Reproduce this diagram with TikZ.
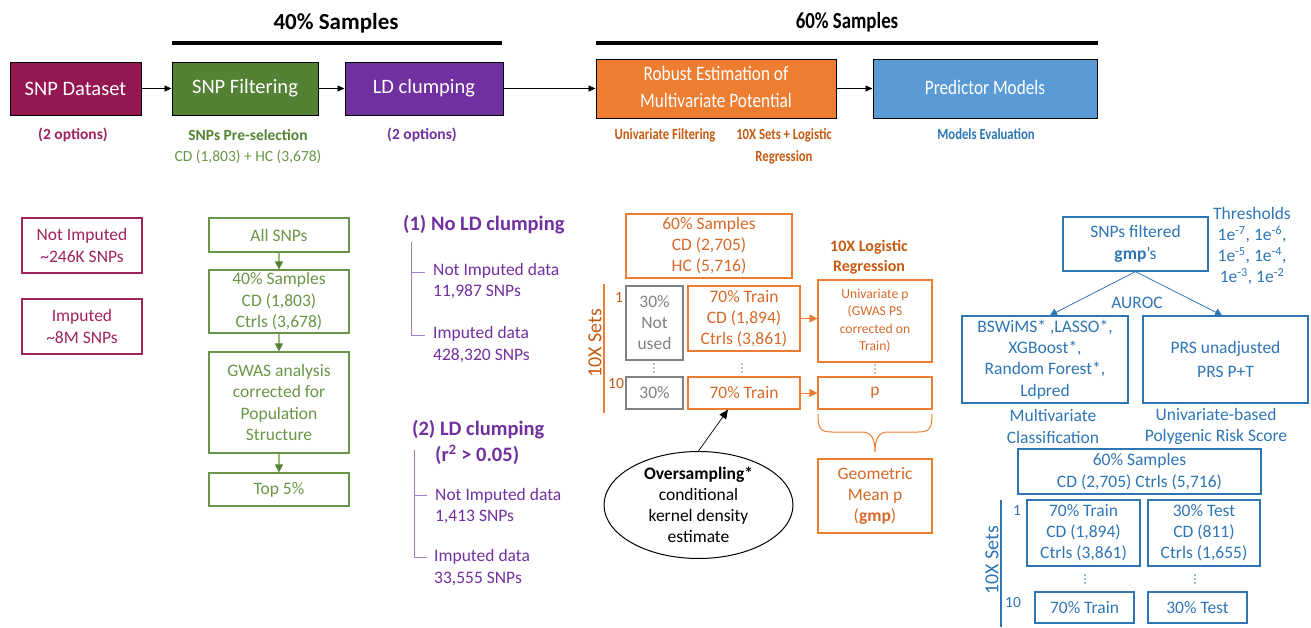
\documentclass[tikz,border=0pt]{standalone}
\usepackage{fontspec}
\usepackage{graphicx}
\setmainfont{Carlito}
\usetikzlibrary{arrows.meta,shapes.geometric}
\definecolor{magf}{RGB}{148,23,81}
\definecolor{magt}{RGB}{160,35,95}
\definecolor{grnf}{RGB}{84,130,53}
\definecolor{grnl}{RGB}{105,150,70}
\definecolor{grnlt}{RGB}{150,190,120}
\definecolor{purf}{RGB}{112,48,160}
\definecolor{purl}{RGB}{160,125,195}
\definecolor{orgf}{RGB}{237,125,49}
\definecolor{orgt}{RGB}{197,90,17}
\definecolor{orgi}{RGB}{215,105,40}
\definecolor{bluf}{RGB}{91,155,213}
\definecolor{blut}{RGB}{46,117,182}
\definecolor{gryl}{RGB}{128,128,128}
\newcommand\hsq[2]{\scalebox{#1}[1]{\begin{tabular}{@{}c@{}}#2\end{tabular}}}
\begin{document}
\begin{tikzpicture}[x=1pt,y=-1pt,
  sz/.style 2 args={minimum width=#1pt, minimum height=#2pt},
  mainbox/.style={draw=black, line width=1pt, text=white, inner sep=0pt, align=center, font=\fontsize{20.5}{27.5}\selectfont},
  bx/.style={draw, line width=1.2pt, inner sep=0pt, align=center, font=\fontsize{17.5}{21.5}\selectfont},
  txt/.style={inner sep=0pt, align=center, font=\fontsize{17.5}{21.5}\selectfont},
  sub/.style={inner sep=0pt, align=center, font=\fontsize{15.5}{22}\selectfont\bfseries},
  hdr/.style={inner sep=0pt, font=\fontsize{23}{28}\selectfont\bfseries},
  rot/.style={inner sep=0pt, rotate=90, font=\fontsize{20}{24}\selectfont},
  num/.style={inner sep=0pt, font=\fontsize{15.5}{18}\selectfont},
  arr/.style={-{Triangle[length=7pt,width=6pt]}, line width=0.8pt}
]
\useasboundingbox (0,0) rectangle (1311,627);

% headers
\node[hdr] (h40) at (336,23) {40\% Samples};
\draw[line width=4pt] (172,43) -- (502,43);
\node[hdr] (h60) at (847,23) {\hsq{0.82}{60\% Samples}};
\draw[line width=4pt] (596,43) -- (1098,43);

% main boxes
\node[mainbox, fill=magf, sz={131}{53}] (ds) at (75.5,88.5) {SNP Dataset};
\node[mainbox, fill=grnf, sz={146}{53}] (sf) at (245,88.5) {SNP Filtering};
\node[mainbox, fill=purf, sz={158}{53}] (ld) at (424,88.5) {LD clumping};
\node[mainbox, fill=orgf, sz={240}{59}, font=\fontsize{20.5}{27.5}\selectfont] (re) at (716,88.5) {\hsq{0.84}{Robust Estimation of\\Multivariate Potential}};
\node[mainbox, fill=bluf, sz={224}{59}, font=\fontsize{20.5}{27.5}\selectfont] (pm) at (985,88.5) {\hsq{0.84}{Predictor Models}};
\draw[arr] (ds) -- (sf);
\draw[arr] (sf) -- (ld);
\draw[arr] (ld) -- (re);
\draw[arr] (re) -- (pm);

% subtitles
\node[sub, text=magt] (s1) at (73,135) {(2 options)};
\node[sub, text=grnf] (s2) at (248,135) {SNPs Pre-selection};
\node[txt, text=grnl, font=\fontsize{15.5}{20}\selectfont] (s2b) at (248,157) {CD (1,803) + HC (3,678)};
\node[sub, text=purf] (s3) at (422,135) {(2 options)};
\node[sub, text=orgt] (s4) at (665,135) {\hsq{0.82}{Univariate Filtering}};
\node[sub, text=orgt] (s5) at (784,146) {\hsq{0.82}{10X Sets + Logistic\\Regression}};
\node[sub, text=blut] (s6) at (986,135) {\hsq{0.82}{Models Evaluation}};

% left: datasets
\node[bx, draw=magt, text=magt, sz={120}{55}] (ni) at (82,245.5) {Not Imputed\\\textasciitilde246K SNPs};
\node[bx, draw=magt, text=magt, sz={120}{55}] (im) at (82,326.5) {Imputed\\\textasciitilde8M SNPs};

% green column
\node[bx, draw=grnl, text=grnl, sz={140}{34}] (all) at (279,235) {All SNPs};
\node[bx, draw=grnl, text=grnl, sz={140}{63}] (s40) at (279,301.5) {40\% Samples\\CD (1,803)\\Ctrls (3,678)};
\node[bx, draw=grnl, text=grnl, sz={140}{101}] (gw) at (279,402.5) {GWAS analysis\\corrected for\\Population\\Structure};
\node[bx, draw=grnl, text=grnl, sz={140}{33}] (top) at (279,489.5) {Top 5\%};
\tikzset{garr/.style={draw=grnlt, line width=1.2pt, -{Triangle[length=8pt,width=8pt,color=grnf]}}}
\draw[garr] (all) -- (s40);
\draw[garr] (s40) -- (gw);
\draw[garr] (gw) -- (top);

% LD column
\node[inner sep=0pt, anchor=west, text=purf, font=\fontsize{20.5}{24}\selectfont\bfseries] (l1) at (403,225) {(1) No LD clumping};
\draw[purl, line width=1pt] (411,242) -- (411,335) -- (425,335);
\draw[purl, line width=1pt] (411,272) -- (425,272);
\node[txt, anchor=west, align=left, text=purf] (l1a) at (433,281) {Not Imputed data\\11,987 SNPs};
\node[txt, anchor=west, align=left, text=purf] (l1b) at (433,344.5) {Imputed data\\428,320 SNPs};
\node[inner sep=0pt, anchor=west, text=purf, font=\fontsize{20.5}{24}\selectfont\bfseries] (l2) at (412,430) {(2) LD clumping};
\node[inner sep=0pt, anchor=west, text=purf, font=\fontsize{20.5}{24}\selectfont\bfseries] (l2r) at (435,455) {(r\textsuperscript{2} > 0.05)};
\draw[purl, line width=1pt] (414,450) -- (414,557) -- (427,557);
\draw[purl, line width=1pt] (414,495) -- (427,495);
\node[txt, anchor=west, align=left, text=purf] (l2a) at (435,506) {Not Imputed data\\1,413 SNPs};
\node[txt, anchor=west, align=left, text=purf] (l2b) at (434,567.5) {Imputed data\\33,555 SNPs};

% orange section
\node[bx, draw=orgf, text=orgi, sz={166}{64}, font=\fontsize{17.5}{21}\selectfont] (o60) at (709,246) {60\% Samples\\CD (2,705)\\HC (5,716)};
\node[sub, text=orgt, font=\fontsize{16}{20}\selectfont\bfseries] (olr) at (869,257) {10X Logistic\\Regression};
\node[rot, text=orgt] (osets) at (595,343) {10X Sets};
\draw[orgf, line width=1.2pt] (604,284) -- (604,413);
\node[num, text=orgt] (o1) at (619,298) {1};
\node[num, text=orgt] (o10) at (616,384) {10};
\node[bx, draw=gryl, text=gryl, sz={57}{74}, font=\fontsize{17.5}{21}\selectfont] (nu) at (654.5,323) {30\%\\Not\\used};
\node[bx, draw=orgf, text=orgi, sz={112}{65}, font=\fontsize{17.5}{21}\selectfont] (oa) at (744,318.5) {70\% Train\\CD (1,894)\\Ctrls (3,861)};
\node[bx, draw=gryl, text=gryl, sz={57}{32}] (g30) at (654.5,393) {30\%};
\node[bx, draw=orgf, text=orgi, sz={112}{32}] (ob) at (744,393) {70\% Train};
\node[bx, draw=orgf, text=orgi, sz={114}{82}, font=\fontsize{13.6}{17.5}\selectfont] (up) at (875,321) {Univariate p\\(GWAS PS\\corrected on\\Train)};
\node[bx, draw=orgf, text=orgi, sz={114}{32}] (pb) at (875,393) {p};
\foreach \px/\py/\pc in {654/368/gryl, 742/368/orgi, 875/369/orgi, 1085/579/blut, 1195/579/blut}
  \foreach \dd in {-4,0,4}
    \fill[\pc] (\px,\py+\dd) circle (0.9);
\tikzset{oarr/.style={draw=orgf, line width=1pt, -{Triangle[length=8pt,width=8pt]}}}
\draw[oarr] (oa.east) -- (up.west |- oa.east);
\draw[oarr] (ob) -- (pb);
\draw[orgf, line width=1pt] (818,414) .. controls (818,428) and (820,432) .. (832,432) -- (862,432) .. controls (871,432) and (875,438) .. (875,452) .. controls (875,438) and (879,432) .. (888,432) -- (918,432) .. controls (930,432) and (932,428) .. (932,414);
\node[bx, draw=orgf, text=orgi, sz={114}{74}, font=\fontsize{17.5}{21}\selectfont] (gm) at (875,496) {Geometric\\Mean p\\(\textbf{gmp})};
\node[ellipse, draw=black, line width=1pt, inner sep=0pt, sz={189}{106}, align=center, font=\fontsize{17.5}{21}\selectfont] (ov) at (698.5,505) {\textbf{Oversampling*}\\conditional\\kernel density\\estimate};
\draw[-{Triangle[length=9pt,width=8pt]}, line width=0.7pt] (ov.north) -- ([xshift=-16pt]ob.south);

% blue section
\node[bx, draw=blut, text=blut, sz={145}{54}, font=\fontsize{17.5}{22}\selectfont] (sfg) at (1135.5,244) {SNPs filtered\\\textbf{gmp}’s};
\node[txt, text=blut, font=\fontsize{17.5}{21.3}\selectfont] (thr) at (1252,246) {Thresholds\\1e\textsuperscript{-7}, 1e\textsuperscript{-6},\\1e\textsuperscript{-5}, 1e\textsuperscript{-4},\\1e\textsuperscript{-3}, 1e\textsuperscript{-2}};
\node[txt, text=blut] (au) at (1137,303) {AUROC};
\node[bx, draw=blut, text=blut, sz={166}{87}, font=\fontsize{17.5}{21.3}\selectfont] (lb) at (1045,359.5) {BSWiMS* ,LASSO*,\\XGBoost*,\\Random Forest*,\\Ldpred};
\node[bx, draw=blut, text=blut, sz={165}{87}, font=\fontsize{17.5}{24}\selectfont] (rb) at (1225.5,359.5) {PRS unadjusted\\PRS P+T};
\tikzset{barr/.style={draw=blut, line width=0.8pt, -{Triangle[length=7pt,width=8pt]}}}
\draw[barr] (sfg.south) -- ([xshift=5pt]lb.north);
\draw[barr] (sfg.south) -- ([xshift=-3.5pt]rb.north);
\node[txt, text=blut] (mc) at (1053,426.5) {Multivariate\\Classification};
\node[txt, text=blut] (ub) at (1216,426.5) {Univariate-based\\Polygenic Risk Score};
\node[bx, draw=blut, text=blut, sz={243}{45}, font=\fontsize{17.5}{22}\selectfont] (b60) at (1139.5,471.5) {60\% Samples\\CD (2,705) Ctrls (5,716)};
\node[rot, text=blut] (bsets) at (992,560) {10X Sets};
\draw[blut, line width=1.2pt] (1001,500) -- (1001,627);
\node[num, text=blut] (b1) at (1017,511) {1};
\node[num, text=blut] (b10) at (1013,603) {10};
\node[bx, draw=blut, text=blut, sz={113}{66}, font=\fontsize{17.5}{21}\selectfont] (t70) at (1083.5,533) {70\% Train\\CD (1,894)\\Ctrls (3,861)};
\node[bx, draw=blut, text=blut, sz={112}{66}, font=\fontsize{17.5}{21}\selectfont] (t30) at (1204,533) {30\% Test\\CD (811)\\Ctrls (1,655)};
\node[bx, draw=blut, text=blut, sz={99}{31}] (t70b) at (1084.5,607.5) {70\% Train};
\node[bx, draw=blut, text=blut, sz={99}{31}] (t30b) at (1197.5,607.5) {30\% Test};
\end{tikzpicture}
\end{document}
